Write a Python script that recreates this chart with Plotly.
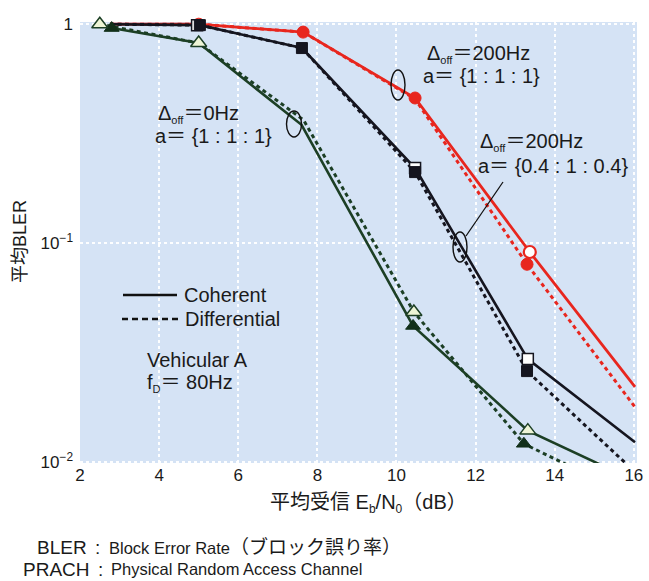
import plotly.graph_objects as go

# ---------------- data ----------------
# Δoff = 200 Hz, a = {1:1:1}  (red)
red_coh_x = [2.76, 5.0, 7.64, 10.47, 13.37, 16.03]
red_coh_y = [1.0, 1.0, 0.92, 0.46, 0.091, 0.022]
red_dif_x = [2.76, 5.0, 7.64, 10.47, 13.30, 16.03]
red_dif_y = [1.0, 1.0, 0.92, 0.455, 0.080, 0.0178]
red_fill_x = [5.0, 7.64, 10.47, 13.30]
red_fill_y = [1.0, 0.92, 0.46, 0.080]
red_open_x = [13.37]
red_open_y = [0.091]

# Δoff = 200 Hz, a = {0.4:1:0.4}  (black)
blk_coh_x = [2.76, 5.03, 7.61, 10.47, 13.32, 16.03]
blk_coh_y = [1.0, 0.99, 0.778, 0.22, 0.0295, 0.0123]
blk_dif_x = [2.76, 5.03, 7.61, 10.47, 13.30, 16.0]
blk_dif_y = [1.0, 0.99, 0.778, 0.211, 0.026, 0.0091]
blk_fill_x = [5.03, 7.61, 10.47, 13.30]
blk_fill_y = [0.99, 0.778, 0.211, 0.026]
blk_open_x = [4.96, 10.47, 13.32]
blk_open_y = [0.99, 0.22, 0.0295]

# Δoff = 0 Hz, a = {1:1:1}  (green)
grn_coh_x = [2.8, 5.0, 7.6, 10.42, 13.32, 15.27]
grn_coh_y = [0.96, 0.82, 0.347, 0.0418, 0.0139, 0.0095]
grn_dif_x = [2.5, 5.0, 7.65, 10.44, 13.22, 14.31]
grn_dif_y = [1.0, 0.82, 0.365, 0.0484, 0.0121, 0.0097]
grn_fill_x = [2.8, 10.42, 13.22]
grn_fill_y = [0.96, 0.0418, 0.0121]
grn_open_x = [2.5, 5.0, 10.44, 13.32]
grn_open_y = [1.0, 0.82, 0.0484, 0.0139]

x_ticks = [2, 4, 6, 8, 10, 12, 14, 16]
y_ticks = [0.01, 0.1, 1]
y_ticktext = ["10<sup>−2</sup>", "10<sup>−1</sup>", "1"]

# ---------------- styling ----------------
FONT = "Liberation Sans, Arial, Noto Sans CJK JP, sans-serif"
RED = "#e8261e"
BLK = "#15151f"
GRN = "#1c3f25"
TXT = "#1a1a1a"
DOT = "4px,3.5px"

W, H = 649, 581
L, R, T, B = 80, 637, 22, 463


def px_x(px):
    return (px - L) / (R - L)


def px_y(py):
    return (B - py) / (B - T)


def sub(s, size=11):
    return '<sub><span style="font-size:%dpx">%s</span></sub>' % (size, s)


def sized(s, size):
    return '<span style="font-size:%dpx">%s</span>' % (size, s)


fig = go.Figure()


def add_line(x, y, color, dash, width=2.6):
    fig.add_trace(go.Scatter(x=x, y=y, mode="lines",
                             line=dict(color=color, width=width, dash=dash),
                             hoverinfo="skip"))


def add_markers(x, y, symbol, size, fill, edge, ew=1.5):
    fig.add_trace(go.Scatter(x=x, y=y, mode="markers", cliponaxis=False,
                             marker=dict(symbol=symbol, size=size, color=fill,
                                         line=dict(color=edge, width=ew)),
                             hoverinfo="skip"))


# lines
add_line(red_dif_x, red_dif_y, RED, DOT, 3)
add_line(red_coh_x, red_coh_y, RED, "solid", 2.8)
add_line(blk_dif_x, blk_dif_y, BLK, DOT, 3)
add_line(blk_coh_x, blk_coh_y, BLK, "solid", 2.6)
add_line(grn_dif_x, grn_dif_y, GRN, DOT, 3)
add_line(grn_coh_x, grn_coh_y, GRN, "solid", 2.6)

# markers
add_markers(red_fill_x, red_fill_y, "circle", 12, RED, RED, 1)
add_markers(red_open_x, red_open_y, "circle", 12, "white", RED, 2.2)
add_markers(blk_open_x, blk_open_y, "square", 11, "white", BLK, 1.5)
add_markers(blk_fill_x, blk_fill_y, "square", 11, BLK, BLK, 1)
add_markers(grn_fill_x, grn_fill_y, "triangle-up", 13, "#12301a", "#12301a", 1)
add_markers(grn_open_x, grn_open_y, "triangle-up", 14, "#eef5d6", GRN, 1.5)

shapes = []
# ellipses
for cx, cy, w, h in [(294, 124, 15, 26), (398, 85, 14, 30), (460, 247, 14, 30)]:
    shapes.append(dict(type="circle", xref="paper", yref="paper",
                       x0=px_x(cx - w / 2), x1=px_x(cx + w / 2),
                       y0=px_y(cy + h / 2), y1=px_y(cy - h / 2),
                       line=dict(color="#111", width=1.4)))
# leader line
shapes.append(dict(type="line", xref="paper", yref="paper",
                   x0=px_x(466), y0=px_y(236), x1=px_x(503), y1=px_y(182),
                   line=dict(color="#111", width=1.3)))
# legend samples
shapes.append(dict(type="line", xref="paper", yref="paper",
                   x0=px_x(123), y0=px_y(295), x1=px_x(177), y1=px_y(295),
                   line=dict(color="#111", width=2.6)))
shapes.append(dict(type="line", xref="paper", yref="paper",
                   x0=px_x(122), y0=px_y(319), x1=px_x(178), y1=px_y(319),
                   line=dict(color="#111", width=2.6, dash="6px,4px")))

annotations = []


def note(text, px, py, size=20, xanchor="left", angle=0):
    annotations.append(dict(text=text, xref="paper", yref="paper",
                            x=px_x(px), y=px_y(py), xanchor=xanchor,
                            yanchor="middle", showarrow=False, textangle=angle,
                            borderpad=0,
                            font=dict(family=FONT, size=size, color=TXT)))


note("Δ" + sub("off") + "＝0Hz", 157, 114)
note("a＝ {1 : 1 : 1}", 154, 136)
note("Δ" + sub("off") + "＝200Hz", 426, 54)
note("a＝ {1 : 1 : 1}", 422, 76)
note("Δ" + sub("off") + "＝200Hz", 479, 142)
note("a＝ {0.4 : 1 : 0.4}", 477, 166)
note("Coherent", 183, 295)
note("Differential", 184, 319)
note("Vehicular A", 146, 360)
note("f" + sub("D") + "＝ 80Hz", 146, 383)
note("平均BLER", 20, 242, size=18, xanchor="center", angle=-90)
note("平均受信 E" + sub("b", 12) + "/N" + sub("0", 12) + "（dB）", 369, 503,
     size=20, xanchor="center")
note("BLER", 88, 547, size=19, xanchor="right")
note(":", 97, 547, size=19, xanchor="center")
note("Block Error Rate" + sized("（ブロック誤り率）", 19), 108, 547, size=16.5)
note("PRACH", 91, 569, size=19, xanchor="right")
note(":", 100, 569, size=19, xanchor="center")
note("Physical Random Access Channel", 110, 569, size=16.5)

fig.update_layout(
    width=W, height=H,
    margin=dict(l=L, r=W - R, t=T, b=H - B, autoexpand=False),
    paper_bgcolor="white",
    plot_bgcolor="#d5e3f5",
    showlegend=False,
    font=dict(family=FONT, size=16, color=TXT),
    shapes=shapes,
    annotations=annotations,
)
fig.update_xaxes(range=[2, 16.08], tickvals=x_ticks, showgrid=True,
                 gridcolor="rgba(255,255,255,0.95)", griddash="dot", gridwidth=1.5,
                 zeroline=False, showline=False, ticks="", automargin=False,
                 tickfont=dict(size=17, color=TXT))
fig.update_yaxes(type="log", range=[-2.005, 0.01], tickvals=y_ticks,
                 ticktext=y_ticktext, showgrid=True,
                 gridcolor="rgba(255,255,255,0.95)", griddash="dot", gridwidth=1.5,
                 zeroline=False, showline=False, ticks="", ticklabelstandoff=6,
                 automargin=False, tickfont=dict(size=17, color=TXT))

fig.write_html(
    "out.html",
    config={"displayModeBar": False},
    post_script="document.body.style.margin='0';document.body.style.overflow='hidden';",
)
